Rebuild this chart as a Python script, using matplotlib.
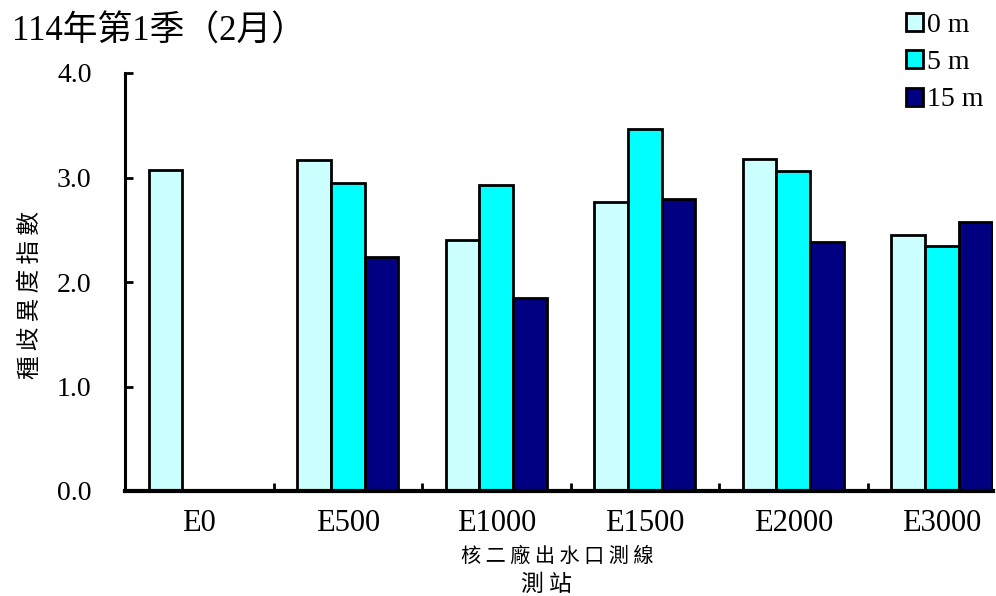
import matplotlib
matplotlib.use("Agg")
import matplotlib.pyplot as plt
import numpy as np

stations = ["E0", "E500", "E1000", "E1500", "E2000", "E3000"]
depths = ["0 m", "5 m", "15 m"]
v0 = [3.07, 3.17, 2.40, 2.77, 3.18, 2.45]
v5 = [np.nan, 2.95, 2.93, 3.46, 3.06, 2.34]
v15 = [np.nan, 2.24, 1.85, 2.79, 2.38, 2.57]
colors = ["#CCFFFF", "#00FFFF", "#000080"]
yticks = [0.0, 1.0, 2.0, 3.0, 4.0]

serif = ["Liberation Serif", "Noto Sans CJK TC"]
cjk = ["Noto Sans CJK TC", "Liberation Serif"]
plt.rcParams["font.family"] = serif

fig = plt.figure(figsize=(9.96, 5.96), dpi=100)
ax = fig.add_axes([125/996, 105/596, (993-125)/996, (491-73)/596])

x = np.arange(len(stations))
w = 0.226
for i, (vals, c, lab) in enumerate(zip([v0, v5, v15], colors, depths)):
    ax.bar(x + (i - 1) * w, vals, w, color=c, edgecolor="black", linewidth=2, label=lab)

ax.set_xlim(-0.5, 5.345)
ax.set_ylim(0, 4.0)
ax.set_yticks(yticks)
ax.set_yticklabels([f"{t:.1f}" for t in yticks], fontsize=20)
ax.set_xticks(x)
ax.set_xticklabels(stations, fontsize=22)
ax.tick_params(axis="x", which="major", length=0, pad=13)
ax.set_xticks(np.arange(0.5, len(stations) - 0.5, 1.0), minor=True)
ax.tick_params(axis="x", which="minor", direction="in", length=6, width=2)
ax.tick_params(axis="y", direction="in", length=6, width=2, pad=24)
for s in ["top", "right"]:
    ax.spines[s].set_visible(False)
ax.spines["left"].set_linewidth(2.2)
ax.spines["bottom"].set_linewidth(3)

fig.text(12/996, 1 - 32/596, "114年第1季（2月）", fontsize=25, family=serif,
         ha="left", va="center")
fig.text(30/996, 1 - 295/596, " ".join("種歧異度指數"), fontsize=17, family=cjk,
         rotation=90, ha="center", va="center")
fig.text(557/996, 1 - 556/596, " ".join("核二廠出水口測線"), fontsize=14.5, family=cjk,
         ha="center", va="center")
fig.text(546/996, 1 - 584/596, " ".join("測站"), fontsize=16.5, family=cjk,
         ha="center", va="center")

leg = fig.legend(loc="upper right", bbox_to_anchor=(1.0, 1.0), frameon=False,
                 fontsize=20, handlelength=0.6, handleheight=0.6, handletextpad=0.15,
                 labelspacing=0.45, borderaxespad=0.25, borderpad=0.2)

fig.savefig("out.png", dpi=100)
